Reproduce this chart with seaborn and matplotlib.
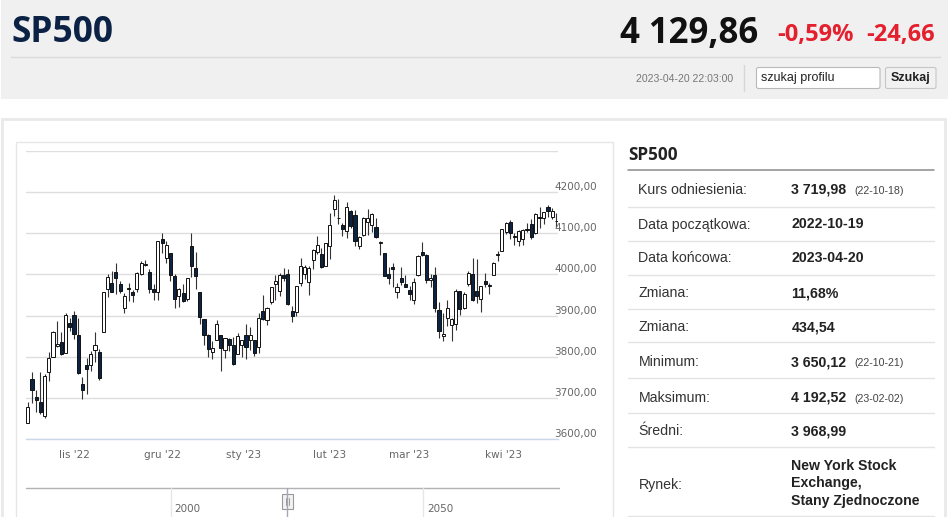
import numpy as np
import pandas as pd
import matplotlib.pyplot as plt
import matplotlib.patches as mpatches
import seaborn as sns

# daily candles of the index
dates = [
    "2022-10-17", "2022-10-18", "2022-10-19", "2022-10-20", "2022-10-21", "2022-10-24",
    "2022-10-25", "2022-10-26", "2022-10-27", "2022-10-28", "2022-10-31",
    "2022-11-01", "2022-11-02", "2022-11-03", "2022-11-04", "2022-11-07", "2022-11-08",
    "2022-11-09", "2022-11-10", "2022-11-11", "2022-11-14", "2022-11-15", "2022-11-16",
    "2022-11-17", "2022-11-18", "2022-11-21", "2022-11-22", "2022-11-23", "2022-11-25",
    "2022-11-28", "2022-11-29", "2022-11-30",
    "2022-12-01", "2022-12-02", "2022-12-05", "2022-12-06", "2022-12-08", "2022-12-09",
    "2022-12-12", "2022-12-13", "2022-12-14", "2022-12-15", "2022-12-16", "2022-12-19",
    "2022-12-20", "2022-12-21", "2022-12-22", "2022-12-23", "2022-12-27", "2022-12-28",
    "2022-12-29", "2022-12-30",
    "2023-01-03", "2023-01-04", "2023-01-05", "2023-01-06", "2023-01-09", "2023-01-10",
    "2023-01-11", "2023-01-12", "2023-01-13", "2023-01-17", "2023-01-18", "2023-01-19",
    "2023-01-20", "2023-01-23", "2023-01-24", "2023-01-25", "2023-01-26", "2023-01-27",
    "2023-01-30", "2023-01-31",
    "2023-02-01", "2023-02-02", "2023-02-03", "2023-02-06", "2023-02-07", "2023-02-08",
    "2023-02-09", "2023-02-10", "2023-02-13", "2023-02-14", "2023-02-15", "2023-02-16",
    "2023-02-17", "2023-02-21", "2023-02-22", "2023-02-23", "2023-02-24", "2023-02-27",
    "2023-02-28",
    "2023-03-01", "2023-03-02", "2023-03-03", "2023-03-06", "2023-03-07", "2023-03-08",
    "2023-03-09", "2023-03-10", "2023-03-13", "2023-03-14", "2023-03-15", "2023-03-16",
    "2023-03-17", "2023-03-20", "2023-03-21", "2023-03-22", "2023-03-23", "2023-03-24",
    "2023-03-27", "2023-03-28", "2023-03-29", "2023-03-30", "2023-03-31",
    "2023-04-03", "2023-04-04", "2023-04-05", "2023-04-06", "2023-04-10", "2023-04-11",
    "2023-04-12", "2023-04-13", "2023-04-14", "2023-04-17", "2023-04-18", "2023-04-19",
    "2023-04-20",
]

opens = [
    3638.65, 3746.26, 3703.11, 3689.05, 3657.10, 3762.01, 3799.44, 3825.97, 3834.69, 3808.26, 3881.85,
    3901.79, 3852.90, 3733.25, 3779.50, 3780.71, 3817.02, 3810.94, 3859.89, 3963.72, 3977.97, 4006.41,
    3976.82, 3919.26, 3966.39, 3956.23, 3965.51, 4000.30, 4023.34, 4005.36, 3964.19, 3957.18,
    4087.14, 4040.17, 4052.02, 3996.63, 3947.79, 3954.17, 3939.29, 4069.38, 4015.54, 3958.37,
    3890.91, 3853.79, 3810.47, 3839.49, 3853.26, 3815.11, 3843.34, 3829.56, 3805.45, 3829.06,
    3853.29, 3840.36, 3839.74, 3823.37, 3910.82, 3888.57, 3932.35, 3977.57, 3960.60, 3999.28,
    4002.25, 3911.84, 3909.04, 3978.14, 4001.74, 3982.71, 4036.08, 4053.72, 4049.27, 4020.85,
    4070.07, 4158.68, 4136.69, 4119.57, 4105.35, 4153.47, 4144.25, 4068.92, 4096.62, 4126.70,
    4119.50, 4114.75, 4077.39, 4052.35, 4001.83, 4018.60, 3958.00, 3992.36, 3977.19,
    3963.34, 3938.68, 3998.02, 4055.15, 4048.26, 3987.55, 3998.66, 3912.77, 3850.00, 3894.01,
    3876.74, 3878.93, 3958.69, 3917.47, 3975.89, 4002.04, 3959.21, 3939.21, 3982.93, 3974.13,
    3999.53, 4046.74, 4056.18,
    4102.20, 4128.03, 4094.50, 4081.15, 4085.20, 4110.29, 4121.72, 4100.04, 4140.11, 4137.17,
    4164.26, 4139.33, 4130.48,
]

highs = [
    3689.73, 3762.79, 3719.25, 3762.17, 3757.89, 3810.74, 3862.85, 3886.15, 3859.95, 3905.42, 3893.73,
    3911.79, 3894.44, 3750.59, 3796.34, 3813.95, 3859.40, 3818.20, 3958.33, 4001.48, 4008.97, 4028.84,
    3983.09, 3954.33, 3979.89, 3962.00, 4005.88, 4033.78, 4034.02, 4012.27, 3976.77, 4080.11,
    4100.51, 4080.48, 4052.45, 4001.51, 3966.64, 3977.02, 3990.71, 4100.96, 4053.76, 3958.37,
    3890.91, 3854.86, 3838.24, 3889.82, 3853.26, 3845.80, 3846.65, 3848.32, 3858.19, 3839.85,
    3878.46, 3873.16, 3839.74, 3906.19, 3950.57, 3919.83, 3970.07, 3997.76, 4003.95, 4015.39,
    4014.16, 3922.94, 3972.96, 4039.31, 4023.92, 4019.55, 4061.57, 4094.21, 4063.85, 4077.16,
    4148.95, 4192.52, 4182.36, 4124.63, 4176.54, 4156.85, 4156.23, 4094.36, 4138.90, 4159.77,
    4148.11, 4136.54, 4081.51, 4052.35, 4017.37, 4028.30, 3978.25, 4018.05, 3997.50,
    3971.73, 3990.84, 4048.29, 4078.49, 4050.00, 4000.41, 4017.81, 3934.05, 3905.05, 3937.29,
    3894.26, 3964.46, 3958.91, 3956.62, 4009.08, 4039.49, 4038.20, 3972.74, 4003.83, 3979.20,
    4030.59, 4057.85, 4110.75,
    4127.66, 4133.13, 4099.69, 4107.32, 4109.50, 4124.26, 4134.37, 4150.26, 4163.19, 4151.72,
    4169.48, 4162.57, 4148.57,
]

lows = [
    3638.65, 3686.53, 3666.77, 3661.96, 3650.12, 3741.65, 3799.44, 3824.07, 3803.79, 3808.26, 3863.18,
    3843.80, 3758.68, 3698.15, 3708.84, 3764.70, 3786.28, 3744.22, 3859.89, 3944.82, 3956.40, 3953.17,
    3954.34, 3906.54, 3935.98, 3933.34, 3956.88, 3998.66, 4020.76, 3955.77, 3937.65, 3938.58,
    4050.87, 4026.63, 3984.49, 3918.39, 3921.72, 3933.04, 3935.30, 3993.03, 3965.65, 3879.45,
    3827.91, 3800.04, 3795.62, 3839.49, 3764.49, 3797.01, 3813.22, 3780.78, 3805.45, 3800.34,
    3794.33, 3815.77, 3802.42, 3809.56, 3890.42, 3877.29, 3928.54, 3937.56, 3947.67, 3984.57,
    3926.59, 3885.54, 3897.86, 3971.64, 3989.79, 3949.06, 4013.29, 4048.70, 4015.55, 4020.44,
    4037.20, 4141.88, 4123.36, 4093.38, 4088.39, 4111.67, 4069.67, 4060.79, 4092.67, 4095.01,
    4103.98, 4089.49, 4047.95, 3995.19, 3976.90, 3969.19, 3943.08, 3973.55, 3968.98,
    3939.05, 3928.16, 3995.17, 4044.61, 3980.31, 3969.76, 3908.70, 3846.32, 3838.00, 3873.63,
    3838.24, 3864.11, 3901.27, 3916.89, 3971.19, 3936.17, 3929.74, 3909.16, 3970.49, 3951.53,
    3999.53, 4032.10, 4056.18,
    4098.79, 4086.87, 4072.56, 4069.84, 4072.55, 4102.61, 4086.94, 4099.40, 4113.20, 4123.18,
    4140.36, 4134.49, 4114.57,
]

closes = [
    3677.95, 3719.98, 3695.32, 3665.78, 3752.75, 3797.34, 3859.11, 3830.60, 3807.30, 3901.06, 3871.98,
    3856.10, 3759.69, 3719.89, 3770.55, 3806.80, 3828.11, 3748.57, 3956.37, 3992.93, 3957.25, 3991.73,
    3958.79, 3946.56, 3965.34, 3949.94, 4003.58, 4027.26, 4026.12, 3963.94, 3957.63, 4080.11,
    4076.57, 4071.70, 3998.84, 3941.26, 3963.51, 3934.38, 3990.56, 4019.65, 3995.32, 3895.75,
    3852.36, 3817.66, 3821.62, 3878.44, 3822.39, 3844.82, 3829.25, 3783.22, 3849.28, 3839.50,
    3824.14, 3852.97, 3808.10, 3895.08, 3892.09, 3919.25, 3969.61, 3983.17, 3999.09, 3990.97,
    3928.86, 3898.85, 3972.61, 4019.81, 4016.95, 4016.22, 4060.43, 4070.56, 4017.77, 4076.60,
    4119.21, 4179.76, 4136.48, 4111.08, 4164.00, 4117.86, 4081.50, 4090.46, 4137.29, 4136.13,
    4147.60, 4090.41, 4079.09, 3997.34, 3991.05, 4012.32, 3970.04, 3982.24, 3970.15,
    3951.39, 3981.35, 4045.64, 4048.42, 3986.37, 3992.01, 3918.32, 3861.59, 3855.76, 3919.29,
    3891.93, 3960.28, 3916.64, 3951.57, 4002.87, 3936.97, 3948.72, 3970.99, 3977.53, 3971.27,
    4027.81, 4050.83, 4109.31,
    4124.51, 4100.60, 4090.38, 4105.02, 4109.11, 4108.94, 4091.95, 4146.22, 4137.64, 4151.32,
    4154.87, 4154.52, 4129.86,
]

month_starts = ["2022-11-01", "2022-12-01", "2023-01-01", "2023-02-01", "2023-03-01", "2023-04-01"]
month_labels = ["lis '22", "gru '22", "sty '23", "lut '23", "mar '23", "kwi '23"]
price_levels = [3600, 3700, 3800, 3900, 4000, 4100, 4200, 4300]

row_labels = ["Kurs odniesienia:", "Data początkowa:", "Data końcowa:", "Zmiana:", "Zmiana:",
              "Minimum:", "Maksimum:", "Średni:", "Rynek:"]
row_values = ["3 719,98", "2022-10-19", "2023-04-20", "11,68%", "434,54",
              "3 650,12", "4 192,52", "3 968,99", ""]
row_notes = ["(22-10-18)", "", "", "", "", "(22-10-21)", "(23-02-02)", "", ""]
market_lines = ["New York Stock", "Exchange,", "Stany Zjednoczone"]

W, H = 948, 517
RED = "#e5202e"
NAVY = "#0c2444"

sns.set_style("white")
plt.rcParams["font.family"] = ["Open Sans", "DejaVu Sans"]

fig = plt.figure(figsize=(W / 100, H / 100), dpi=100)

# page background drawn in pixel coordinates
bg = fig.add_axes([0, 0, 1, 1])
bg.set_xlim(0, W)
bg.set_ylim(H, 0)
bg.axis("off")

bg.add_patch(mpatches.Rectangle((1, 0), W - 1, 98.5, fc="#f0f0f0", ec="none"))
bg.plot([11, 940], [56.5, 56.5], color="#d9d9d9", lw=1)
bg.text(11, 41.5, "SP500", fontsize=25.5, fontweight="bold", color="#0b2245")
bg.text(620, 43, "4 129,86", fontsize=25, fontweight="bold", color="#111111")
bg.text(777, 41, "-0,59%", fontsize=17, fontweight="bold", color=RED)
bg.text(935, 41, "-24,66", fontsize=17, fontweight="bold", color=RED, ha="right")

bg.text(733, 79, "2023-04-20 22:03:00", ha="right", va="center", fontsize=7.6,
        color="#777777", family="Liberation Sans")
bg.plot([744.5, 744.5], [65, 91], color="#d6d6d6", lw=1)
bg.add_patch(mpatches.FancyBboxPatch((756.5, 67.5), 123.5, 21, boxstyle="round,pad=0,rounding_size=2",
                                     fc="white", ec="#b9b9b9", lw=0.8))
bg.text(761, 78.5, "szukaj profilu", va="center", fontsize=9, color="#222222",
        family="Liberation Sans")
bg.add_patch(mpatches.FancyBboxPatch((885.5, 67.5), 50.5, 21, boxstyle="round,pad=0,rounding_size=2",
                                     fc="#f1f1f1", ec="#c6c6c6", lw=0.8))
bg.text(911, 78.5, "Szukaj", ha="center", va="center", fontsize=9, fontweight="bold",
        color="#222222", family="Liberation Sans")

bg.add_patch(mpatches.Rectangle((2.5, 119), 943, 420, fc="white", ec="#e9e9e9", lw=2))
bg.add_patch(mpatches.Rectangle((16, 141.5), 597, 400, fc="none", ec="#e6e6e6", lw=1))

# info table on the right
bg.text(628, 160, "SP500", fontsize=12.3, fontweight="bold", color="#222222")
bg.plot([628, 934], [170.3, 170.3], color="#8c8c8c", lw=1.1)
row_bottoms = [206.7, 240.7, 274.7, 308.5, 342.3, 377.7, 413, 447.3, 516]
row_base = [193.5, 228.5, 262.5, 297, 331, 366.3, 401.5, 435.3, 489]
for label, value, note, base, bottom in zip(row_labels, row_values, row_notes, row_base, row_bottoms):
    bg.text(638.5, base, label, fontsize=10.2, color="#333333", family="Liberation Sans")
    bg.text(791.5, base, value, fontsize=10.2, fontweight="bold", color="#222222",
            family="Liberation Sans")
    if note:
        bg.text(854, base, note, fontsize=7.7, color="#444444", family="Liberation Sans")
    bg.plot([628, 934], [bottom, bottom], color="#e4e4e4", lw=1)
for line, base in zip(market_lines, [469.5, 487, 505]):
    bg.text(791.5, base, line, fontsize=10.2, fontweight="bold", color="#222222",
            family="Liberation Sans")

# navigator strip under the chart
bg.plot([26, 559], [488.3, 488.3], color="#b2b1b6", lw=1)
for gx, lab in [(170.7, "2000"), (423.3, "2050")]:
    bg.plot([gx, gx], [488.3, H], color="#e6e6e6", lw=1)
    bg.text(gx + 3.5, 509, lab, va="center", fontsize=7.5, color="#666666", family="DejaVu Sans")
bg.plot([286.7, 286.7], [488.3, H], color="#a3a8b4", lw=1)
bg.add_patch(mpatches.Rectangle((282.3, 494), 10.4, 15, fc="#f2f2f2", ec="#999999", lw=0.8))
bg.plot([286, 286], [498, 505], color="#999999", lw=0.7)
bg.plot([288.6, 288.6], [498, 505], color="#999999", lw=0.7)

# candlestick chart
ax = fig.add_axes([26 / W, 1 - 439 / H, 532 / W, 288 / H])
ax.set_facecolor("none")

o = np.array(opens)
h = np.array(highs)
l = np.array(lows)
c = np.array(closes)
dt = pd.to_datetime(dates)
x = np.arange(len(dt))

body_colors = np.where(c >= o, "white", NAVY)
ax.vlines(x, l, h, color="#333333", lw=0.8, zorder=2)
ax.bar(x, np.abs(c - o), bottom=np.minimum(o, c), width=0.74, color=body_colors,
       edgecolor="#111111", linewidth=0.7, zorder=3)

ax.set_xlim(-0.44, 126.38)
ax.set_ylim(3600, 4300)

tick_pos = np.interp(pd.to_datetime(month_starts).asi8, dt.asi8, x)
ax.set_xticks(tick_pos)
ax.set_xticklabels(month_labels, family="DejaVu Sans")
ax.tick_params(axis="x", direction="out", length=5.8, width=1, color="#ccd6eb",
               labelsize=7.5, labelcolor="#666666", pad=1.8)

ax.set_yticks(price_levels)
ax.tick_params(axis="y", length=0, labelleft=False)
ax.yaxis.grid(True, color="#dedede", lw=1)
ax.set_axisbelow(True)
for v in price_levels[:-1]:
    ax.text(1 - 4 / 532, v + 12, f"{v:.2f}".replace(".", ","), transform=ax.get_yaxis_transform(),
            fontsize=7.5, color="#666666", family="DejaVu Sans", va="center", ha="left")

sns.despine(ax=ax, left=True, right=True, top=True)
ax.spines["bottom"].set_color("#ccd6eb")
ax.spines["bottom"].set_linewidth(1)

fig.savefig("out.png", dpi=100)
